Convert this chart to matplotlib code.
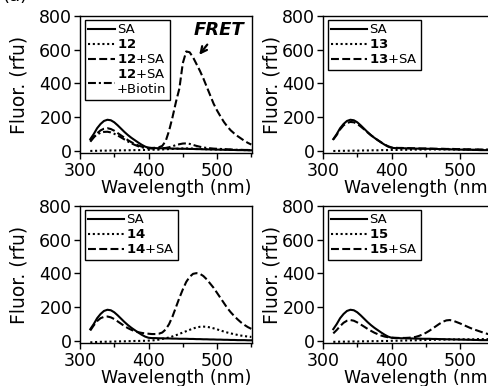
import numpy as np
import matplotlib

matplotlib.use("Agg")
import matplotlib.pyplot as plt
from matplotlib.ticker import MultipleLocator

# wavelength grid (nm), 315..550 every 5 nm
wavelength = np.arange(315, 551, 5)

# streptavidin alone (same trace in every panel)
sa = [70, 100, 135, 160, 178, 185, 182, 170, 152, 132, 112, 94, 78, 64, 50, 37, 26, 19,
      17, 17, 16, 16, 15, 15, 14, 14, 13, 13, 13, 12, 12, 11, 11, 10, 10, 9, 9, 8, 8, 7,
      7, 6, 6, 5, 5, 5, 4, 4]

# panel 12
dye12 = [0, 1, 1, 2, 2, 2, 3, 3, 3, 4, 4, 4, 5, 5, 5, 6, 6, 7,
         7, 8, 8, 9, 10, 11, 12, 13, 14, 15, 15, 15, 14, 13, 12, 11, 10, 10, 9, 9, 8, 8,
         7, 7, 6, 6, 6, 5, 5, 5]
dye12_sa = [55, 80, 105, 122, 132, 135, 130, 120, 106, 92, 78, 64, 52, 42, 33, 26, 21, 19,
            18, 19, 22, 30, 58, 120, 200, 290, 370, 520, 590, 585, 555, 515, 475, 430, 380,
            330, 280, 240, 205, 172, 145, 122, 104, 88, 74, 60, 48, 38]
dye12_sa_biotin = [60, 82, 98, 108, 113, 114, 110, 102, 92, 80, 68, 56, 45, 36, 28, 22, 18, 16,
                   15, 15, 15, 16, 18, 22, 28, 35, 40, 44, 45, 42, 36, 30, 25, 21, 18, 16, 14,
                   13, 12, 11, 10, 9, 8, 7, 7, 6, 6, 5]

# panel 13
dye13 = [0, 0, 1, 1, 1, 2, 2, 2, 3, 3, 3, 4, 4, 4, 5, 5, 5, 6,
         6, 6, 7, 7, 7, 8, 8, 8, 8, 9, 9, 9, 9, 9, 9, 9, 9, 9, 8, 8, 8, 8,
         8, 7, 7, 7, 7, 7, 6, 6]
dye13_sa = [68, 95, 128, 152, 166, 172, 170, 160, 145, 128, 110, 93, 78, 64, 51, 38, 28, 21,
            19, 18, 18, 17, 17, 16, 16, 15, 15, 15, 14, 14, 13, 13, 13, 12, 12, 12, 11, 11,
            10, 10, 10, 9, 9, 9, 8, 8, 8, 7]

# panel 14
dye14 = [-8, -7, -6, -5, -5, -4, -4, -3, -3, -2, -2, -1, -1, 0, 0, 1, 1, 2,
         3, 5, 8, 12, 16, 21, 27, 34, 42, 50, 58, 66, 74, 80, 84, 85, 84, 80, 75, 69,
         62, 56, 50, 45, 40, 36, 32, 29, 26, 24]
dye14_sa = [62, 92, 118, 135, 143, 145, 140, 130, 116, 102, 88, 76, 66, 58, 52, 48, 45, 43,
            41, 41, 43, 50, 68, 100, 145, 200, 255, 305, 350, 380, 398, 402, 398, 385, 365,
            340, 315, 285, 255, 225, 195, 170, 148, 128, 110, 95, 82, 72]

# panel 15
dye15 = [-5, -5, -4, -4, -4, -3, -3, -3, -2, -2, -2, -1, -1, -1, 0, 0, 0, 1,
         1, 2, 2, 3, 3, 4, 4, 5, 5, 6, 6, 7, 7, 8, 8, 8, 9, 9, 9, 10,
         10, 10, 10, 10, 11, 11, 11, 11, 11, 11]
dye15_sa = [45, 65, 88, 108, 120, 124, 120, 110, 98, 85, 72, 60, 49, 40, 32, 26, 22, 20,
            19, 18, 18, 18, 19, 21, 24, 30, 38, 48, 60, 74, 88, 102, 114, 122, 124, 120,
            112, 104, 95, 86, 77, 69, 62, 55, 48, 42, 37, 33]

SOLID = "-"
DOTTED = (0, (1, 1.3))
DASHED = (0, (3.8, 1.6))
DASHDOT = (0, (3.8, 1.4, 1.0, 1.4))

W, H = 488, 386


def px_rect(left, top, right, bottom):
    return [left / W, 1 - bottom / H, (right - left) / W, (bottom - top) / H]


def style_axes(ax, ylabel_x):
    ax.set_xlim(300, 551)
    ax.set_ylim(-12, 800)
    ax.xaxis.set_major_locator(MultipleLocator(100))
    ax.xaxis.set_minor_locator(MultipleLocator(50))
    ax.yaxis.set_major_locator(MultipleLocator(200))
    ax.tick_params(axis="both", which="major", direction="out", length=4, width=1,
                   labelsize=12.5, pad=1.5, top=False, right=False)
    ax.tick_params(axis="x", which="minor", direction="out", length=3, width=1, top=False)
    ax.tick_params(axis="x", which="major", pad=2.5)
    for sp in ax.spines.values():
        sp.set_linewidth(1.0)
    ax.set_xlabel("Wavelength (nm)", fontsize=12.5)
    ax.set_ylabel("Fluor. (rfu)", fontsize=13.5)
    ax.xaxis.set_label_coords(0.558, -0.19)
    ax.yaxis.set_label_coords(ylabel_x, 0.5)


def add_legend(ax, handlelength):
    leg = ax.legend(loc="upper left", bbox_to_anchor=(0.03, 0.97), borderaxespad=0,
                    fontsize=9.5, frameon=True, fancybox=False, framealpha=1,
                    edgecolor="black", borderpad=0.25, labelspacing=0.15,
                    handlelength=handlelength, handletextpad=0.15)
    leg.get_frame().set_linewidth(1.0)
    return leg


def plot_panel(ax, rows, ylabel_x, handlelength):
    for y, ls, label in rows:
        ax.plot(wavelength, y, color="black", linestyle=ls, linewidth=1.5, label=label)
    style_axes(ax, ylabel_x)
    add_legend(ax, handlelength)


fig = plt.figure(figsize=(W / 100, H / 100), dpi=100)

ax1 = fig.add_axes(px_rect(80, 16, 252, 153))
ax2 = fig.add_axes(px_rect(323, 16, 495, 153))
ax3 = fig.add_axes(px_rect(80, 206, 252, 343))
ax4 = fig.add_axes(px_rect(323, 206, 495, 343))

plot_panel(ax1, [(sa, SOLID, "SA"),
                 (dye12, DOTTED, r"$\mathbf{12}$"),
                 (dye12_sa, DASHED, r"$\mathbf{12}$+SA"),
                 (dye12_sa_biotin, DASHDOT, "$\\mathbf{12}$+SA\n+Biotin")],
           -0.30, 2.0)
plot_panel(ax2, [(sa, SOLID, "SA"),
                 (dye13, DOTTED, r"$\mathbf{13}$"),
                 (dye13_sa, DASHED, r"$\mathbf{13}$+SA")],
           -0.24, 2.7)
plot_panel(ax3, [(sa, SOLID, "SA"),
                 (dye14, DOTTED, r"$\mathbf{14}$"),
                 (dye14_sa, DASHED, r"$\mathbf{14}$+SA")],
           -0.30, 2.7)
plot_panel(ax4, [(sa, SOLID, "SA"),
                 (dye15, DOTTED, r"$\mathbf{15}$"),
                 (dye15_sa, DASHED, r"$\mathbf{15}$+SA")],
           -0.24, 2.7)

# FRET arrow on the first panel
ax1.annotate("FRET", xy=(474, 570), xytext=(503, 690), fontsize=13,
             fontweight="bold", fontstyle="italic", ha="center", va="baseline",
             arrowprops=dict(arrowstyle="->", color="black", lw=1.6,
                             mutation_scale=11, shrinkA=3, shrinkB=0))

# panel tag, mostly cut off at the top edge
fig.text(2 / W, 1 - 0.8 / H, "(a)", fontsize=13, va="baseline", ha="left")

fig.savefig("out.png", dpi=100)
